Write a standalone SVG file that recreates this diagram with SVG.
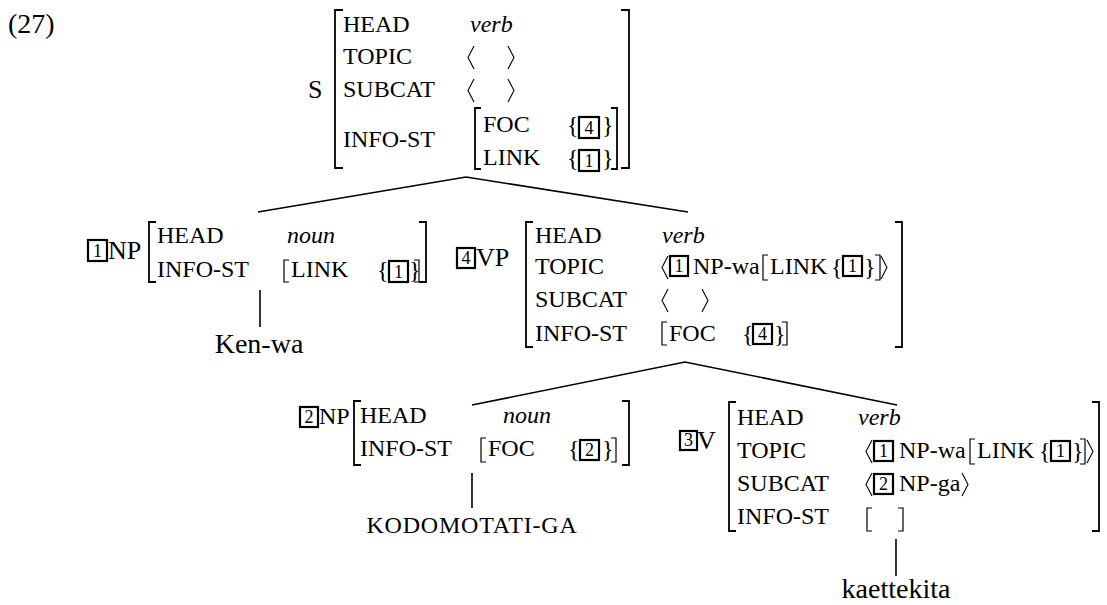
<svg xmlns="http://www.w3.org/2000/svg" width="1107" height="605" viewBox="0 0 1107 605">
<style>
text{font-family:"Liberation Serif","Times New Roman",serif;fill:#000}
.f{font-size:24px}
.i{font-style:italic}
.lb{font-size:26px}
.lf{font-size:28px}
.ks{letter-spacing:0.8px}
.br{fill:none;stroke:#000;stroke-width:1.8}
.sb{fill:none;stroke:#000;stroke-width:1.2}
.ab{fill:none;stroke:#000;stroke-width:1.1}
.tg{fill:none;stroke:#000;stroke-width:2.2}
.tn{font-size:18px;text-anchor:middle}
.e{fill:none;stroke:#000;stroke-width:1.6}
.c{text-anchor:middle}
</style>
<rect width="1107" height="605" fill="#fff"/>
<text x="8" y="33" class="lf">(27)</text>

<g id="node-S">
<text x="308" y="98" class="lb">S</text>
<path class="br" d="M343,10H335V168H343"/>
<text x="343" y="32" class="f">HEAD</text>
<text x="470" y="32" class="f i">verb</text>
<text x="343" y="64" class="f">TOPIC</text>
<path class="ab" d="M474,46L468,57.5L474,69M508,46L514,57.5L508,69"/>
<text x="343" y="97" class="f">SUBCAT</text>
<path class="ab" d="M474,79L468,90.5L474,102M508,79L514,90.5L508,102"/>
<text x="343" y="147" class="f">INFO-ST</text>
<path class="br" d="M481,108H475V169H481"/>
<text x="483" y="132" class="f">FOC</text>
<text x="567" y="133" class="f">{</text>
<rect class="tg" x="579" y="117" width="20" height="21"/>
<text x="589" y="134" class="tn">4</text>
<text x="602" y="133" class="f">}</text>
<text x="483" y="165" class="f">LINK</text>
<text x="567" y="166" class="f">{</text>
<rect class="tg" x="579" y="150" width="20" height="21"/>
<text x="589" y="167" class="tn">1</text>
<text x="602" y="166" class="f">}</text>
<path class="br" d="M611,108H617V169H611"/>
<path class="br" d="M621,10H629V168H621"/>
</g>

<g id="node-NP1">
<rect class="tg" x="88" y="240" width="19" height="21"/>
<text x="97.5" y="257" class="tn">1</text>
<text x="108" y="259" class="lb">NP</text>
<path class="br" d="M156,222H149V282H156"/>
<text x="157" y="243" class="f">HEAD</text>
<text x="287" y="243" class="f i">noun</text>
<text x="157" y="277" class="f">INFO-ST</text>
<path class="sb" d="M289,260H284V282H289"/>
<text x="291" y="277" class="f">LINK</text>
<text x="377" y="278" class="f">{</text>
<rect class="tg" x="389" y="261" width="19" height="21"/>
<text x="398.5" y="278" class="tn">1</text>
<text x="409" y="278" class="f">}</text>
<path class="sb" d="M414,260H419V282H414"/>
<path class="br" d="M419,222H426V282H419"/>
</g>

<g id="node-VP4">
<rect class="tg" x="457" y="248" width="18" height="20"/>
<text x="466" y="264" class="tn">4</text>
<text x="476" y="266" class="lb">VP</text>
<path class="br" d="M533,222H526V347H533"/>
<text x="535" y="243" class="f">HEAD</text>
<text x="662" y="243" class="f i">verb</text>
<text x="535" y="274" class="f">TOPIC</text>
<path class="ab" d="M668,256L662,267.5L668,279"/>
<rect class="tg" x="670" y="256" width="18" height="20"/>
<text x="679" y="272" class="tn">1</text>
<text x="693" y="274" class="f">NP-wa</text>
<path class="sb" d="M768,255H763V280H768"/>
<text x="770" y="274" class="f">LINK</text>
<text x="831" y="275" class="f">{</text>
<rect class="tg" x="843" y="256" width="19" height="20"/>
<text x="852.5" y="272" class="tn">1</text>
<text x="864" y="275" class="f">}</text>
<path class="sb" d="M875,255H880V280H875"/>
<path class="ab" d="M881,256L887,267.5L881,279"/>
<text x="535" y="307" class="f">SUBCAT</text>
<path class="ab" d="M668,289L662,300.5L668,312M702,289L708,300.5L702,312"/>
<text x="535" y="341" class="f">INFO-ST</text>
<path class="sb" d="M667,322H662V345H667"/>
<text x="669" y="341" class="f">FOC</text>
<text x="742" y="342" class="f">{</text>
<rect class="tg" x="753" y="324" width="19" height="20"/>
<text x="762.5" y="340" class="tn">4</text>
<text x="774" y="342" class="f">}</text>
<path class="sb" d="M782,322H787V345H782"/>
<path class="br" d="M895,222H902V347H895"/>
</g>

<g id="node-NP2">
<rect class="tg" x="300" y="407" width="18" height="20"/>
<text x="309" y="423" class="tn">2</text>
<text x="319" y="424" class="f">NP</text>
<path class="br" d="M361,401H354V465H361"/>
<text x="360" y="423" class="f">HEAD</text>
<text x="503" y="423" class="f i">noun</text>
<text x="360" y="456" class="f">INFO-ST</text>
<path class="sb" d="M486,438H481V462H486"/>
<text x="488" y="456" class="f">FOC</text>
<text x="568" y="457" class="f">{</text>
<rect class="tg" x="580" y="440" width="19" height="20"/>
<text x="589.5" y="456" class="tn">2</text>
<text x="602" y="457" class="f">}</text>
<path class="sb" d="M611,438H616V462H611"/>
<path class="br" d="M622,401H629V465H622"/>
</g>

<g id="node-V3">
<rect class="tg" x="680" y="431" width="17" height="19"/>
<text x="688.5" y="446" class="tn">3</text>
<text x="697" y="449" class="lb">V</text>
<path class="br" d="M736,402H729V531H736"/>
<text x="737" y="425" class="f">HEAD</text>
<text x="858" y="425" class="f i">verb</text>
<text x="737" y="458" class="f">TOPIC</text>
<path class="ab" d="M872,440L866,451.5L872,463"/>
<rect class="tg" x="874" y="441" width="19" height="20"/>
<text x="883.5" y="457" class="tn">1</text>
<text x="899" y="458" class="f">NP-wa</text>
<path class="sb" d="M975,439H970V464H975"/>
<text x="977" y="458" class="f">LINK</text>
<text x="1039" y="459" class="f">{</text>
<rect class="tg" x="1051" y="441" width="19" height="20"/>
<text x="1060.5" y="457" class="tn">1</text>
<text x="1072" y="459" class="f">}</text>
<path class="sb" d="M1080,439H1085V464H1080"/>
<path class="ab" d="M1087,440L1093,451.5L1087,463"/>
<text x="737" y="491" class="f">SUBCAT</text>
<path class="ab" d="M872,473L866,484.5L872,496"/>
<rect class="tg" x="874" y="474" width="19" height="20"/>
<text x="883.5" y="490" class="tn">2</text>
<text x="899" y="491" class="f">NP-ga</text>
<path class="ab" d="M962,473L968,484.5L962,496"/>
<text x="737" y="524" class="f">INFO-ST</text>
<path class="sb" d="M872,508H867V531H872"/>
<path class="sb" d="M898,508H903V531H898"/>
<path class="br" d="M1092,402H1099V531H1092"/>
</g>

<g id="leaf-Ken-wa"><text x="259" y="353" class="lf c">Ken-wa</text></g>
<g id="leaf-KODOMOTATI-GA"><text x="472" y="533" class="f c ks">KODOMOTATI-GA</text></g>
<g id="leaf-kaettekita"><text x="896" y="598" class="lf c">kaettekita</text></g>

<g id="connectors">
<path class="e" d="M258,212L466,177L688,212"/>
<path class="e" d="M472,405L685,362L897,405"/>
<path class="e" d="M260,290V327"/>
<path class="e" d="M472,473V508"/>
<path class="e" d="M896,539V576"/>
</g>
</svg>
